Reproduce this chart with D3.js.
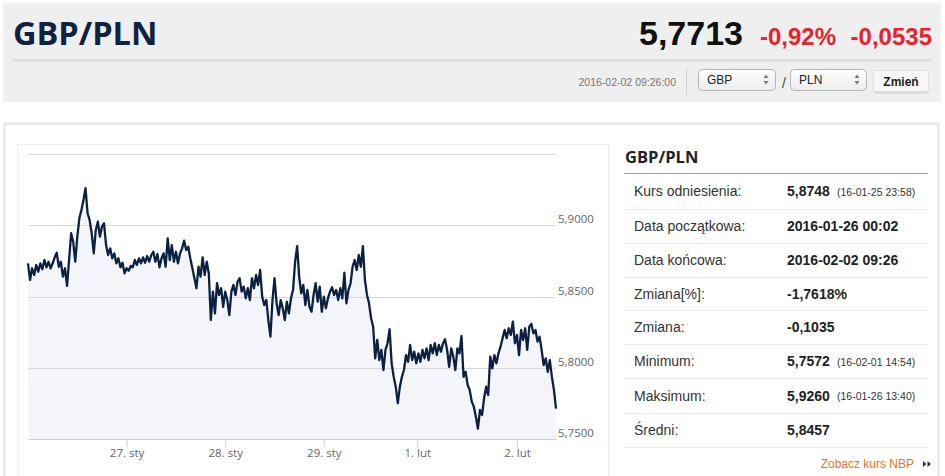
<!DOCTYPE html>
<html lang="pl">
<head>
<meta charset="UTF-8">
<title>GBP/PLN</title>
<script src="https://d3js.org/d3.v7.min.js"></script>
<style>
  body { margin: 0; background: #fff; overflow: hidden; }
  svg { display: block; font-family: "Liberation Sans", Arial, sans-serif; }
  .ax { font-family: "Open Sans", sans-serif; font-size: 11.5px; fill: #666; }
</style>
</head>
<body>
<svg id="page" width="945" height="476"></svg>
<script>
// quote header
const pair = "GBP/PLN";
const lastRate = "5,7713";
const changePct = "-0,92%";
const changeAbs = "-0,0535";
const quoteTime = "2016-02-02 09:26:00";

// half-hour samples of the rate, 26 Jan 00:02 .. 2 Feb 09:26 (trading hours only)
const rates = [
  5.8733, 5.8616, 5.8698, 5.8651, 5.8721, 5.8674, 5.8733, 5.8691, 5.8756, 5.8705,
  5.8744, 5.8698, 5.8733, 5.8775, 5.8807, 5.8709, 5.8744, 5.8639, 5.8698, 5.8574,
  5.8756, 5.8944, 5.8885, 5.8744, 5.8920, 5.9049, 5.9107, 5.9177, 5.9260, 5.9084,
  5.9037, 5.8944, 5.8803, 5.8967, 5.9025, 5.8920, 5.8990, 5.9014, 5.8861, 5.8791,
  5.8838, 5.8768, 5.8803, 5.8733, 5.8768, 5.8705, 5.8737, 5.8663, 5.8698, 5.8681,
  5.8714, 5.8705, 5.8756, 5.8721, 5.8768, 5.8733, 5.8775, 5.8737, 5.8784, 5.8744,
  5.8791, 5.8814, 5.8744, 5.8798, 5.8705, 5.8768, 5.8803, 5.8709, 5.8908, 5.8756,
  5.8861, 5.8744, 5.8814, 5.8733, 5.8803, 5.8838, 5.8892, 5.8826, 5.8849, 5.8768,
  5.8698, 5.8628, 5.8558, 5.8709, 5.8639, 5.8775, 5.8651, 5.8744, 5.8663, 5.8335,
  5.8534, 5.8382, 5.8593, 5.8511, 5.8558, 5.8428, 5.8534, 5.8475, 5.8370, 5.8534,
  5.8581, 5.8511, 5.8604, 5.8628, 5.8534, 5.8569, 5.8487, 5.8558, 5.8475, 5.8628,
  5.8558, 5.8651, 5.8581, 5.8686, 5.8499, 5.8440, 5.8475, 5.8335, 5.8218, 5.8475,
  5.8628, 5.8452, 5.8370, 5.8475, 5.8417, 5.8335, 5.8464, 5.8382, 5.8487, 5.8546,
  5.8742, 5.8854, 5.8639, 5.8522, 5.8581, 5.8440, 5.8546, 5.8428, 5.8393, 5.8511,
  5.8593, 5.8464, 5.8569, 5.8393, 5.8499, 5.8417, 5.8487, 5.8534, 5.8565, 5.8511,
  5.8546, 5.8475, 5.8558, 5.8487, 5.8667, 5.8452, 5.8546, 5.8593, 5.8709, 5.8756,
  5.8686, 5.8791, 5.8709, 5.8854, 5.8616, 5.8511, 5.8452, 5.8347, 5.8288, 5.8066,
  5.8195, 5.8054, 5.8125, 5.7984, 5.8125, 5.8172, 5.8270, 5.8031, 5.7937, 5.7867,
  5.7751, 5.7867, 5.7937, 5.7984, 5.8089, 5.8042, 5.8160, 5.8054, 5.8113, 5.8031,
  5.8101, 5.8042, 5.8125, 5.8066, 5.8136, 5.8054, 5.8160, 5.8101, 5.8172, 5.8089,
  5.8160, 5.8113, 5.8172, 5.8200, 5.8125, 5.8007, 5.8136, 5.8078, 5.7984, 5.8136,
  5.8101, 5.8223, 5.7937, 5.7972, 5.7879, 5.7844, 5.7762, 5.7727, 5.7656, 5.7572,
  5.7704, 5.7668, 5.7786, 5.7867, 5.7809, 5.8078, 5.7996, 5.8089, 5.8031, 5.8101,
  5.8148, 5.8207, 5.8265, 5.8207, 5.8277, 5.8230, 5.8323, 5.8172, 5.8230, 5.8089,
  5.8265, 5.8195, 5.8277, 5.8125, 5.8288, 5.8307, 5.8242, 5.8265, 5.8183, 5.8218,
  5.8125, 5.8019, 5.8066, 5.7972, 5.8054, 5.7937, 5.7844, 5.7713
];
const stepHours = 0.5;

// axes
const xTickHours = [24, 48, 72, 94.75, 119];
const xTickLabels = ["27. sty", "28. sty", "29. sty", "1. lut", "2. lut"];
const yGridValues = [5.75, 5.80, 5.85, 5.90, 5.95];
const yLabelValues = [5.75, 5.80, 5.85, 5.90];

// side table
const rowLabels = ["Kurs odniesienia:", "Data początkowa:", "Data końcowa:", "Zmiana[%]:",
                   "Zmiana:", "Minimum:", "Maksimum:", "Średni:"];
const rowValues = ["5,8748", "2016-01-26 00:02", "2016-02-02 09:26", "-1,7618%",
                   "-0,1035", "5,7572", "5,9260", "5,8457"];
const rowNotes = ["(16-01-25 23:58)", "", "", "", "", "(16-02-01 14:54)", "(16-01-26 13:40)", ""];

const svg = d3.select("#page");

// ---- header ----
svg.append("rect").attr("x", 3).attr("y", 3).attr("width", 938).attr("height", 99).attr("fill", "#efefef");
svg.append("text").attr("x", 13).attr("y", 45).text(pair)
    .style("font-family", "'Open Sans', sans-serif").style("font-weight", 700)
    .style("font-size", "32.5px").attr("fill", "#0e2341");
svg.append("line").attr("x1", 12).attr("x2", 932).attr("y1", 60.5).attr("y2", 60.5)
    .attr("stroke", "#dadada").attr("stroke-width", 2);

svg.append("text").attr("x", 743).attr("y", 45).attr("text-anchor", "end").text(lastRate)
    .style("font-weight", 700).style("font-size", "34px").attr("fill", "#111");
svg.append("text").attr("x", 836).attr("y", 45).attr("text-anchor", "end").text(changePct)
    .style("font-weight", 700).style("font-size", "24px").attr("fill", "#e8212b");
svg.append("text").attr("x", 932).attr("y", 45).attr("text-anchor", "end").text(changeAbs)
    .style("font-weight", 700).style("font-size", "24px").attr("fill", "#e8212b");

svg.append("text").attr("x", 676).attr("y", 85.5).attr("text-anchor", "end").text(quoteTime)
    .style("font-size", "10.5px").attr("fill", "#777");
svg.append("line").attr("x1", 686.5).attr("x2", 686.5).attr("y1", 68).attr("y2", 95).attr("stroke", "#d2d2d2");

const grad = svg.append("defs").append("linearGradient").attr("id", "sel").attr("x2", 0).attr("y2", 1);
grad.append("stop").attr("offset", 0).attr("stop-color", "#ffffff");
grad.append("stop").attr("offset", 1).attr("stop-color", "#ececec");

function selectBox(x, w, label) {
  svg.append("rect").attr("x", x + 0.5).attr("y", 69.5).attr("width", w).attr("height", 21).attr("rx", 4)
      .attr("fill", "url(#sel)").attr("stroke", "#b4b4b4");
  svg.append("text").attr("x", x + 9).attr("y", 84).text(label).style("font-size", "12px").attr("fill", "#222");
  const ax = x + w - 9;
  svg.append("path").attr("d", `M${ax - 2.5},78 L${ax + 2.5},78 L${ax},74.5 Z M${ax - 2.5},81 L${ax + 2.5},81 L${ax},84.5 Z`)
      .attr("fill", "#777");
}
selectBox(698, 77, "GBP");
svg.append("text").attr("x", 782).attr("y", 88).text("/").style("font-size", "14px").attr("fill", "#444");
selectBox(790, 76, "PLN");

svg.append("rect").attr("x", 873.5).attr("y", 71.5).attr("width", 55).attr("height", 22).attr("rx", 2)
    .attr("fill", "#d6d6d6");
svg.append("rect").attr("x", 873.5).attr("y", 70.5).attr("width", 55).attr("height", 21).attr("rx", 2)
    .attr("fill", "#f7f7f7").attr("stroke", "#e0e0e0");
svg.append("text").attr("x", 901).attr("y", 86).attr("text-anchor", "middle").text("Zmień")
    .style("font-size", "12px").style("font-weight", 700).attr("fill", "#222");

// ---- panels ----
svg.append("rect").attr("x", 4.5).attr("y", 123.5).attr("width", 934).attr("height", 360)
    .attr("fill", "none").attr("stroke", "#ebebeb").attr("stroke-width", 3);
svg.append("rect").attr("x", 17.5).attr("y", 144.5).attr("width", 591).attr("height", 340)
    .attr("fill", "none").attr("stroke", "#ededed");

// ---- chart ----
const x = d3.scaleLinear().domain([0, (rates.length - 1) * stepHours]).range([28, 556]);
const y = d3.scaleLinear().domain([5.75, 5.95]).range([439, 154]);
const fmt = v => d3.format(".4f")(v).replace(".", ",");

const g = svg.append("g");

g.append("path").datum(rates)
    .attr("d", d3.area().x((d, i) => x(i * stepHours)).y0(y(5.75)).y1(d => y(d)))
    .attr("fill", "#f3f5f9");

g.selectAll(".grid").data(yGridValues.filter(v => v > 5.75)).enter().append("line")
    .attr("x1", 28).attr("x2", 556)
    .attr("y1", d => Math.round(y(d)) + 0.5).attr("y2", d => Math.round(y(d)) + 0.5)
    .attr("stroke", "#d8d8d8");

g.selectAll(".ylab").data(yLabelValues).enter().append("text")
    .attr("class", "ax").attr("x", 558).attr("y", d => y(d) - 2).text(fmt);

g.append("path").datum(rates)
    .attr("d", d3.line().x((d, i) => x(i * stepHours)).y(d => y(d)))
    .attr("fill", "none").attr("stroke", "#0c2142").attr("stroke-width", 2.3)
    .attr("stroke-linejoin", "round");

const xAxis = g.append("g").attr("transform", `translate(0,${y(5.75)})`)
    .call(d3.axisBottom(x).tickValues(xTickHours).tickSize(8).tickSizeOuter(0)
      .tickFormat((d, i) => xTickLabels[i]));
xAxis.select(".domain").attr("stroke", "#c4d3e3");
xAxis.selectAll(".tick line").attr("stroke", "#c4d3e3");
xAxis.selectAll(".tick text").attr("class", "ax").attr("dy", null).attr("y", 17.5).attr("fill", "#666");

// ---- side table ----
svg.append("text").attr("x", 625).attr("y", 163).text(pair)
    .style("font-family", "'Open Sans', sans-serif").style("font-weight", 700)
    .style("font-size", "16.5px").attr("fill", "#222");
svg.append("line").attr("x1", 624).attr("x2", 928).attr("y1", 173.5).attr("y2", 173.5).attr("stroke", "#a0a0a0");

const rowSeps = [209.5, 243.5, 277.5, 310.5, 344.5, 378.5, 413.5, 447.5];
const rowBase = [196, 231, 265, 298.5, 332, 366, 400.5, 435];
svg.selectAll(".sep").data(rowSeps).enter().append("line")
    .attr("x1", 624).attr("x2", 928).attr("y1", d => d).attr("y2", d => d).attr("stroke", "#ebebeb");
svg.selectAll(".lab").data(rowLabels).enter().append("text")
    .attr("x", 634).attr("y", (d, i) => rowBase[i]).text(d => d)
    .style("font-size", "14px").attr("fill", "#333");
svg.selectAll(".val").data(rowValues).enter().append("text")
    .attr("x", 787).attr("y", (d, i) => rowBase[i]).text(d => d)
    .style("font-size", "14px").style("font-weight", 700).attr("fill", "#222");
svg.selectAll(".note").data(rowNotes).enter().append("text")
    .attr("x", 837).attr("y", (d, i) => rowBase[i] - 0.5).text(d => d)
    .style("font-size", "10.5px").attr("fill", "#333");

svg.append("text").attr("x", 914).attr("y", 468).attr("text-anchor", "end").text("Zobacz kurs NBP")
    .style("font-size", "12px").attr("fill", "#f37021");
svg.append("path").attr("d", "M923,461 L923,467 L926.5,464 Z M927.5,461 L927.5,467 L931,464 Z").attr("fill", "#333");
</script>
</body>
</html>
